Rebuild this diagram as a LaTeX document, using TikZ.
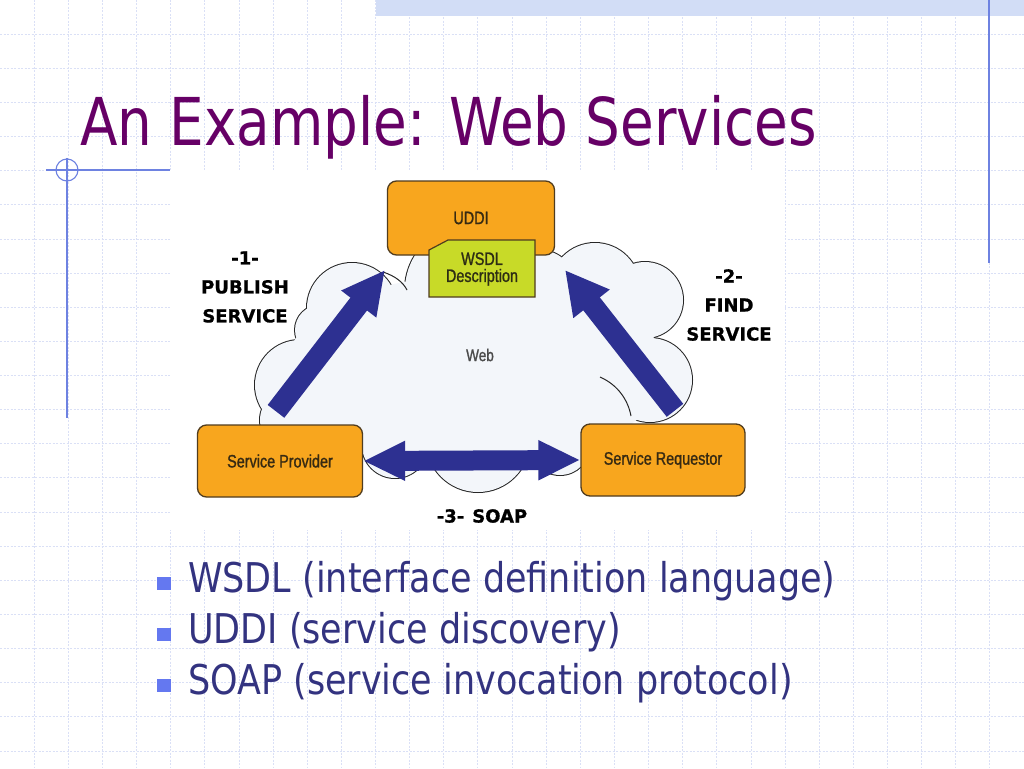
\documentclass[tikz,border=0pt]{standalone}
\usepackage{fontspec}
\setmainfont{DejaVu Sans}
\newfontfamily\titlefont[FakeStretch=0.83]{DejaVu Sans}
\newfontfamily\itemfont[FakeStretch=0.853]{DejaVu Sans}
\newfontfamily\boxfont[FakeStretch=0.8, FakeBold=1.2]{Liberation Sans}
\newfontfamily\labelfont[BoldFeatures={FakeBold=0.8}]{DejaVu Sans}
\usepackage{tikz}
\usetikzlibrary{
  arrows.meta, calc
}

\definecolor{gridblue}{RGB}{218,224,246}
\definecolor{bandblue}{RGB}{210,221,246}
\definecolor{rulerblue}{RGB}{110,130,225}
\definecolor{titlepurple}{RGB}{102,0,102}
\definecolor{bulletnavy}{RGB}{51,51,128}
\definecolor{bulletblue}{RGB}{100,120,240}
\definecolor{boxorange}{RGB}{248,166,30}
\definecolor{boxedge}{RGB}{80,60,30}
\definecolor{boxtext}{RGB}{55,42,18}
\definecolor{wsdlgreen}{RGB}{200,218,40}
\definecolor{wsdltext}{RGB}{45,45,20}
\definecolor{arrowblue}{RGB}{45,48,145}
\definecolor{cloudfill}{RGB}{243,246,250}
\definecolor{webgray}{RGB}{75,75,75}

\begin{document}
\begin{tikzpicture}
      [x=1pt, y=-1pt, inner sep=0pt,
       gridline/.style={draw=gridblue, line width=0.8pt, dash pattern=on 2pt off 1.5pt},
       rulerline/.style={draw=rulerblue, line width=1.1pt},
       orangebox/.style={rectangle, rounded corners=9pt, draw=boxedge, fill=boxorange,
         line width=1.3pt, minimum width=165pt, minimum height=72pt,
         text=boxtext, font=\boxfont\fontsize{18}{20}\selectfont},
       wsdlcard/.style={draw=boxedge, fill=wsdlgreen, line width=1.2pt},
       cloudedge/.style={draw=black!85, line width=2pt},
       fatarrow/.style={draw=arrowblue, line width=21pt},
       steplabel/.style={align=center, font=\labelfont\bfseries\fontsize{18}{29}\selectfont},
       bulletsq/.style={rectangle, fill=bulletblue, minimum size=13.5pt},
       itemtext/.style={anchor=base west, text=bulletnavy, font=\itemfont\fontsize{41}{41}\selectfont}]
      \useasboundingbox (0,0) rectangle (1024,768);
      \fill[white] (0,0) rectangle (1024,768);

      % slide grid
      \foreach \k in {1,...,29}
        \draw[gridline] (\k*34.133,0) -- (\k*34.133,768);
      \foreach \k in {1,...,22}
        \draw[gridline] (0,\k*34.133) -- (1024,\k*34.133);
      \fill[bandblue] (376,0) rectangle (1024,16);
      \draw[rulerline] (989,0) -- (989,263);
      \draw[rulerline] (46,170) -- (170,170);
      \draw[rulerline] (67,158) -- (67,418);
      \draw[rulerline] (67,170) circle[radius=11];

      \node (title) at (80,145) [anchor=base west, text=titlepurple,
        font=\titlefont\fontsize{66}{66}\selectfont] {An Example: Web Services};

      % diagram
      \fill[white] (170,170) rectangle (785,530);
      \def\cloudlobes{352/308/45, 320/330/25, 300/385/45, 290/420/30, 395/445/33,
        478/440/52, 560/445/30, 650/380/42, 645/300/38, 595/288/45, 540/285/35, 470/290/65}
      \foreach \cx/\cy/\r in \cloudlobes
        \draw[cloudedge] (\cx,\cy) circle[radius=\r];
      \foreach \cx/\cy/\r in \cloudlobes
        \fill[cloudfill] (\cx,\cy) circle[radius=\r];
      \fill[cloudfill] (475,370) ellipse[x radius=190, y radius=95];
      \draw[black!85, line width=1pt] (600,377) .. controls (618,385) and (628,400) .. (631,416);
      \draw[black!85, line width=1pt] (383,272) .. controls (395,276) and (403,282) .. (407,290);

      \node (web) at (480,355) [text=webgray, font=\boxfont\fontsize{17}{17}\selectfont] {Web};

      \node (uddi) at (471,218) [orangebox, minimum width=167pt, minimum height=74pt] {UDDI};
      \node (prov) at (280,461) [orangebox] {Service Provider};
      \node (req) at (663,460) [orangebox, minimum width=164pt] {Service Requestor};

      \filldraw[wsdlcard] (429,250) -- (448,240) -- (535,240) -- (535,297) -- (429,297) -- cycle;
      \node (wsdl) at (482,269) [align=center, text=wsdltext,
        font=\boxfont\fontsize{18}{17}\selectfont] {WSDL\\Description};

      \coordinate (pubtail) at ($(prov.north)+(-4,-13)$);
      \coordinate (pubtip) at (385,270);
      \coordinate (findtail) at ($(req.north)+(12,-13)$);
      \coordinate (findtip) at (565,270);

      \draw[fatarrow, -{Triangle[length=43pt, width=41pt]}] (pubtail) -- (pubtip);
      \draw[fatarrow, -{Triangle[length=43pt, width=43pt]}] (findtail) -- (findtip);
      \draw[fatarrow, line width=20pt, {Triangle[length=42pt, width=37pt]}-{Triangle[length=42pt, width=37pt]}]
        (prov.east) -- (req.west);

      \node (publish) at (245,287) [steplabel] {-1-\\PUBLISH\\SERVICE};
      \node (find) at (729,305) [steplabel] {-2-\\FIND\\SERVICE};
      \node (soap) at (482,516) [steplabel] {-3-\hspace{8pt}SOAP};

      % bullet list
      \foreach \y/\txt in {592/WSDL (interface definition language),
          643/UDDI (service discovery), 694/SOAP (service invocation protocol)}
      {
        \node (sq\y) at (164,\y-8.5) [bulletsq] {};
        \node (item\y) at (188,\y) [itemtext] {\txt};
      }
\end{tikzpicture}
\end{document}
